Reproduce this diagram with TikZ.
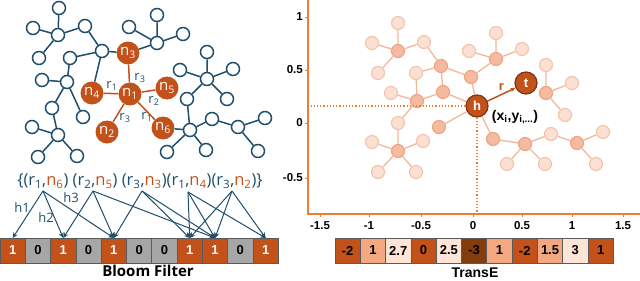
\documentclass[tikz,border=0pt]{standalone}
\usepackage{fontspec}
\setmainfont{Liberation Sans}
\newfontfamily\segoe{Open Sans}
\usepackage{xcolor}
\usepackage{tikz}
\usetikzlibrary{arrows.meta, positioning}
\definecolor{kgblue}{RGB}{31,78,108}
\definecolor{kgorange}{RGB}{194,82,26}
\definecolor{axisorange}{RGB}{237,125,49}
\definecolor{cellgray}{RGB}{166,166,166}
\definecolor{cellline}{RGB}{90,90,90}
\definecolor{palefill}{RGB}{251,224,211}
\definecolor{paleline}{RGB}{246,196,172}
\definecolor{midfill}{RGB}{244,187,160}
\definecolor{midline}{RGB}{239,165,131}
\definecolor{paleedge}{RGB}{245,182,151}
\definecolor{htborder}{RGB}{123,52,21}
\definecolor{deepbrown}{RGB}{132,60,12}
\definecolor{softorange}{RGB}{243,168,130}
\definecolor{paleorange}{RGB}{252,228,214}
\tikzset{
  kg/.style={circle, draw=kgblue, line width=1.5pt, fill=white, minimum size=13pt, inner sep=0pt},
  ent/.style={circle, fill=kgorange, minimum size=23pt, inner sep=0pt, text=white,
    font=\segoe\fontsize{15}{15}\selectfont},
  kgedge/.style={kgblue, line width=1.5pt},
  reledge/.style={kgorange, line width=1.5pt},
  rel/.style={text=kgblue, font=\segoe\fontsize{13}{13}\selectfont, inner sep=1pt},
  emb/.style={circle, draw=paleline, line width=1.2pt, fill=palefill, minimum size=13pt, inner sep=0pt},
  embhub/.style={emb, draw=midline, fill=midfill},
  embedge/.style={paleedge, line width=1.3pt},
  headtail/.style={circle, draw=htborder, line width=1.2pt, fill=kgorange, minimum size=22pt,
    inner sep=0pt, text=white, font=\bfseries\fontsize{13}{13}\selectfont},
  hash/.style={-{Stealth[length=5.5pt,width=5pt]}, kgblue, line width=1pt},
  bit/.style={rectangle, draw=cellline, line width=0.8pt, minimum width=25.3pt, minimum height=25pt,
    inner sep=0pt, outer sep=0pt, font=\bfseries\fontsize{13}{13}\selectfont},
  one/.style={bit, fill=kgorange, text=white},
  zero/.style={bit, fill=cellgray, text=black},
  tdark/.style={bit, fill=kgorange},
  tsoft/.style={bit, fill=softorange},
  tpale/.style={bit, fill=paleorange},
  tdeep/.style={bit, fill=deepbrown},
  axis/.style={axisorange, line width=1.5pt},
  guide/.style={axisorange, line width=1.2pt, dotted},
  ticklabel/.style={font=\bfseries\fontsize{11.5}{11.5}\selectfont, inner sep=1pt},
  caption/.style={font=\segoe\bfseries\fontsize{15}{15}\selectfont, inner sep=0pt}
}
\newcommand{\nsub}[1]{\textcolor{kgorange}{n\textsubscript{#1}}}

\begin{document}
\begin{tikzpicture}[x=1pt, y=-1pt]
\useasboundingbox (0,0) rectangle (640,281);

% knowledge graph
\node (A)  [kg] at (59,8)    {};
\node (C)  [kg] at (33,28)   {};
\node (B)  [kg] at (58,35)   {};
\node (D)  [kg] at (85,26)   {};
\node (E)  [kg] at (39,58)   {};
\node (F)  [kg] at (70,58)   {};
\node (G)  [kg] at (102,51)  {};
\node (T)  [kg] at (129,27)  {};
\node (Q)  [kg] at (157,15)  {};
\node (R)  [kg] at (157,43)  {};
\node (S)  [kg] at (183,34)  {};
\node (I)  [kg] at (42,80)   {};
\node (H)  [kg] at (67,82)   {};
\node (J)  [kg] at (52,108)  {};
\node (K)  [kg] at (83,117)  {};
\node (M)  [kg] at (32,127)  {};
\node (L)  [kg] at (58,135)  {};
\node (N)  [kg] at (38,157)  {};
\node (O)  [kg] at (77,156)  {};
\node (U)  [kg] at (207,52)  {};
\node (W)  [kg] at (180,70)  {};
\node (V)  [kg] at (207,79)  {};
\node (X)  [kg] at (233,69)  {};
\node (Z)  [kg] at (187,99)  {};
\node (Y)  [kg] at (227,99)  {};
\node (DD) [kg] at (212,119) {};
\node (AA) [kg] at (190,130) {};
\node (EE) [kg] at (238,127) {};
\node (FF) [kg] at (265,118) {};
\node (BB) [kg] at (167,152) {};
\node (CC) [kg] at (206,150) {};
\node (GG) [kg] at (258,151) {};

\node (n3) [ent] at (128,53)  {n\textsubscript{3}};
\node (n4) [ent] at (92,93)   {n\textsubscript{4}};
\node (n1) [ent] at (130,94)  {n\textsubscript{1}};
\node (n5) [ent] at (167,88)  {n\textsubscript{5}};
\node (n2) [ent] at (107,132) {n\textsubscript{2}};
\node (n6) [ent] at (163,128) {n\textsubscript{6}};

\draw [kgedge] (A) -- (B) (C) -- (B) (D) -- (B) (E) -- (B) (D) -- (G) (F) -- (G)
  (G) -- (n3) (G) -- (n4) (F) -- (H) (H) -- (I) (H) -- (J) (H) -- (K) (J) -- (L)
  (L) -- (M) (L) -- (N) (L) -- (O) (T) -- (R) (Q) -- (R) (S) -- (R) (R) -- (n3);
\draw [kgedge] (n6) -- (AA) (U) -- (V) (W) -- (V) (X) -- (V) (Y) -- (V) (V) -- (Z)
  (Z) -- (AA) (AA) -- (BB) (AA) -- (CC) (AA) -- (DD) (DD) -- (EE) (EE) -- (FF) (EE) -- (GG);
\draw [reledge] (n3) -- (n1) (n4) -- (n1) (n5) -- (n1) (n6) -- (n1) (n2) -- (n1);

\node [rel] at (112,86)  {r\textsubscript{1}};
\node [rel] at (140,78)  {r\textsubscript{3}};
\node [rel] at (154,101) {r\textsubscript{2}};
\node [rel] at (147,117) {r\textsubscript{1}};
\node [rel] at (125,118) {r\textsubscript{3}};

% triples and bloom filter
\node (triples) [text=kgblue, font=\segoe\fontsize{16.5}{16.5}\selectfont, inner sep=0pt] at (140,181)
  {\{(r\textsubscript{1},\nsub{6}) (r\textsubscript{2},\nsub{5}) (r\textsubscript{3},\nsub{3})(r\textsubscript{1},\nsub{4})(r\textsubscript{3},\nsub{2})\}};
\coordinate (s1) at (43,191);
\coordinate (s2) at (93,191);
\coordinate (s3) at (142,191);
\coordinate (s4) at (188,192);
\coordinate (s5) at (232,191);

\node (b0)  [one, anchor=north west] at (0,238) {1};
\node (b1)  [zero, right=0pt of b0] {0};
\node (b2)  [one,  right=0pt of b1] {1};
\node (b3)  [zero, right=0pt of b2] {0};
\node (b4)  [one,  right=0pt of b3] {1};
\node (b5)  [zero, right=0pt of b4] {0};
\node (b6)  [zero, right=0pt of b5] {0};
\node (b7)  [one,  right=0pt of b6] {1};
\node (b8)  [one,  right=0pt of b7] {1};
\node (b9)  [zero, right=0pt of b8] {0};
\node (b10) [one,  right=0pt of b9] {1};

\draw [hash] (s1) -- (b0.north);
\draw [hash] (s1) -- (b2.north);
\draw [hash] (s1) -- (b4.north);
\draw [hash] (s2) -- (b2.north);
\draw [hash] (s2) -- (b4.north);
\draw [hash] (s2) -- (b8.north);
\draw [hash] (s3) -- (b4.north);
\draw [hash] (s3) -- (b7.north);
\draw [hash] (s3) -- (b8.north);
\draw [hash] (s4) -- (b7.north);
\draw [hash] (s4) -- (b8.north);
\draw [hash] (s4) -- (b10.north);
\draw [hash] (s5) -- (b7.north);
\draw [hash] (s5) -- (b8.north);
\draw [hash] (s5) -- (b10.north);
\node [rel] at (22,208) {h1};
\node [rel] at (46,218) {h2};
\node [rel] at (71,198) {h3};

\node (bloom) [caption] at (148,271) {Bloom Filter};

% embedding space
\coordinate (origin) at (308,214);
\coordinate (ytop) at (308,0);
\coordinate (xend) at (640,214);
\draw [axis] (ytop) -- (origin) -- (xend);
\draw [axis, line width=1pt] (320,214) -- ++(0,3) (369,214) -- ++(0,3) (421,214) -- ++(0,3)
  (473,214) -- ++(0,3) (522,214) -- ++(0,3) (572,214) -- ++(0,3) (623,214) -- ++(0,3)
  (308,17) -- ++(-3,0) (308,70) -- ++(-3,0) (308,123) -- ++(-3,0) (308,178) -- ++(-3,0);
\node [ticklabel, anchor=east] at (304,17)  {1};
\node [ticklabel, anchor=east] at (304,70)  {0.5};
\node [ticklabel, anchor=east] at (304,123) {0};
\node [ticklabel, anchor=east] at (304,178) {-0.5};
\node [ticklabel, anchor=north] at (320,220) {-1.5};
\node [ticklabel, anchor=north] at (369,220) {-1};
\node [ticklabel, anchor=north] at (421,220) {-0.5};
\node [ticklabel, anchor=north] at (473,220) {0};
\node [ticklabel, anchor=north] at (522,220) {0.5};
\node [ticklabel, anchor=north] at (572,220) {1};
\node [ticklabel, anchor=north] at (623,220) {1.5};

\node (a1)  [emb]    at (398,23)  {};
\node (a2)  [emb]    at (372,43)  {};
\node (a3)  [embhub] at (398,51)  {};
\node (a4)  [emb]    at (424,42)  {};
\node (a5)  [emb]    at (378,73)  {};
\node (a6)  [emb]    at (416,73)  {};
\node (a7)  [embhub] at (441,66)  {};
\node (a8)  [embhub] at (471,77)  {};
\node (a10) [emb]    at (391,93)  {};
\node (a11) [embhub] at (417,101) {};
\node (a12) [embhub] at (443,92)  {};
\node (a13) [embhub] at (439,127) {};
\node (a14) [emb]    at (398,123) {};
\node (a15) [embhub] at (398,151) {};
\node (a16) [emb]    at (372,142) {};
\node (a17) [emb]    at (423,141) {};
\node (a18) [emb]    at (378,172) {};
\node (a19) [emb]    at (416,172) {};
\node (b1e) [emb]    at (496,33)  {};
\node (b2e) [embhub] at (496,59)  {};
\node (b3e) [emb]    at (469,51)  {};
\node (b4e) [emb]    at (522,49)  {};
\node (c1)  [emb]    at (546,65)  {};
\node (c2)  [embhub] at (546,93)  {};
\node (c3)  [emb]    at (572,83)  {};
\node (c4)  [emb]    at (565,115) {};
\node (d1)  [embhub] at (493,139) {};
\node (d2)  [embhub] at (525,144) {};
\node (d3)  [emb]    at (507,164) {};
\node (d4)  [emb]    at (545,164) {};
\node (d5)  [emb]    at (551,134) {};
\node (d6)  [embhub] at (577,143) {};
\node (d7)  [emb]    at (603,132) {};
\node (d8)  [emb]    at (596,164) {};
\node (h)   [headtail] at (477,106) {h};
\node (t)   [headtail] at (526,83)  {t};

\draw [guide] (h.west) -- (h.west -| origin);
\draw [guide] (h.south) -- (h.south |- origin);
\draw [embedge] (a1) -- (a3) (a2) -- (a3) (a4) -- (a3) (a5) -- (a3) (a4) -- (a7) (a6) -- (a7)
  (a6) -- (a11) (a7) -- (a12) (a7) -- (a8) (a8) -- (h) (a10) -- (a11) (a11) -- (a12)
  (a12) -- (h) (a13) -- (h) (a11) -- (a14) (a14) -- (a15) (a15) -- (a16) (a15) -- (a17)
  (a15) -- (a18) (a15) -- (a19);
\draw [embedge] (b1e) -- (b2e) (b3e) -- (b2e) (b4e) -- (b2e) (b2e) -- (a8) (h) -- (d1)
  (d1) -- (d2) (d2) -- (d3) (d2) -- (d4) (d2) -- (d5) (d5) -- (d6) (d6) -- (d7) (d6) -- (d8)
  (c1) -- (c2) (c2) -- (c3) (c2) -- (c4);
\draw [-{Stealth[length=5pt,width=4pt]}, kgorange, line width=1.5pt] (h) -- node[above, font=\bfseries\fontsize{13}{13}\selectfont] {r} (t);
\node (coords) [font=\bfseries\fontsize{14}{14}\selectfont, inner sep=0pt] at (515,117)
  {(x\textsubscript{i},y\textsubscript{i,...})};

% transE vector
\node (e0)  [tdark, anchor=north west] at (335,238) {-2};
\node (e1)  [tsoft, right=0pt of e0] {1};
\node (e2)  [tpale, right=0pt of e1] {2.7};
\node (e3)  [tdark, right=0pt of e2] {0};
\node (e4)  [tpale, right=0pt of e3] {2.5};
\node (e5)  [tdeep, right=0pt of e4] {-3};
\node (e6)  [tsoft, right=0pt of e5] {1};
\node (e7)  [tdark, right=0pt of e6] {-2};
\node (e8)  [tsoft, right=0pt of e7] {1.5};
\node (e9)  [tpale, right=0pt of e8] {3};
\node (e10) [tdark, right=0pt of e9] {1};

\node (transe) [caption, font=\bfseries\fontsize{14}{14}\selectfont] at (475,273) {TransE};
\end{tikzpicture}
\end{document}
